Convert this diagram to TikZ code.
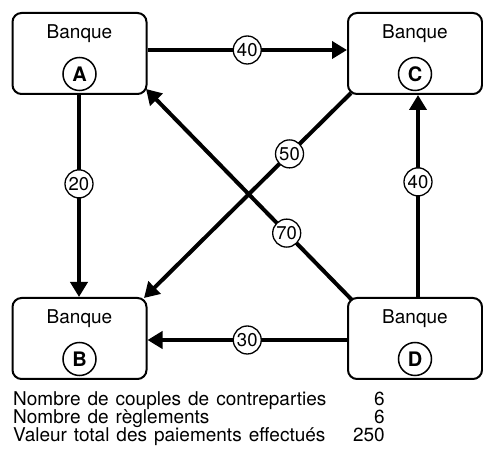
\documentclass[tikz,border=0pt]{standalone}
\usepackage{fontspec}
\setmainfont{TeX Gyre Heros}
\usetikzlibrary{arrows.meta}
\newcommand\mylegendfont{\fontsize{19}{19}\selectfont\spaceskip 7pt\relax}
\begin{document}
\begin{tikzpicture}[x=1pt,y=-1pt,
  bank/.style={draw, line width=2pt, rounded corners=9pt, minimum width=134pt, minimum height=81pt, inner sep=0pt},
  bankname/.style={font=\fontsize{19}{19}\selectfont, anchor=base, inner sep=0pt},
  bankid/.style={circle, draw, line width=1.5pt, minimum size=33pt, inner sep=0pt, font=\fontsize{20}{20}\selectfont\bfseries},
  flow/.style={line width=4pt, -{Triangle[length=15pt,width=17pt]}},
  amount/.style={circle, draw, line width=1.3pt, fill=white, minimum size=28pt, inner sep=0pt, font=\fontsize{18.5}{18.5}\selectfont},
  legend/.style={anchor=base west, inner sep=0pt, font=\mylegendfont},
  legendval/.style={anchor=base east, inner sep=0pt, font=\fontsize{19}{19}\selectfont}
]
\useasboundingbox (0,0) rectangle (483,462);
\node[bank] (A) at (79.5,53.5) {};
\node[bank] (C) at (415,53.5) {};
\node[bank] (B) at (79.5,338.5) {};
\node[bank] (D) at (415,338.5) {};
\foreach \n in {A,B,C,D} {
  \node[bankname] (\n-t) at ([yshift=14.5pt]\n.center) {Banque};
  \node[bankid] (\n-c) at ([yshift=-20.5pt]\n.center) {\n};
}
\draw[flow] ([yshift=3.5pt]A.east) -- node[amount]{40} ([yshift=3.5pt]C.west);
\draw[flow] ([xshift=-0.5pt]A.south) -- node[amount,pos=0.44]{20} ([xshift=-0.5pt]B.north);
\draw[flow] ([xshift=3pt]D.north) -- node[amount,pos=0.57]{40} ([xshift=3pt]C.south);
\draw[flow] ([yshift=-1.5pt]D.west) -- node[amount]{30} ([yshift=-1.5pt]B.east);
\draw[flow] ([xshift=5pt,yshift=-3pt]D.north west) -- node[amount,pos=0.317]{70} ([xshift=-1.5pt,yshift=6pt]A.south east);
\draw[flow] ([xshift=4pt,yshift=2pt]C.south west) -- node[amount,pos=0.297]{50} ([xshift=-3.5pt,yshift=-1pt]B.north east);
\node[legend] (l1) at (13,405.5) {Nombre de couples de contreparties};
\node[legend] (l2) at (13,423.5) {Nombre de règlements};
\node[legend] (l3) at (13,441.5) {Valeur total des paiements effectués};
\node[legendval] (v1) at (385,405.5) {6};
\node[legendval] (v2) at (385,423.5) {6};
\node[legendval] (v3) at (385,441.5) {250};
\end{tikzpicture}
\end{document}
